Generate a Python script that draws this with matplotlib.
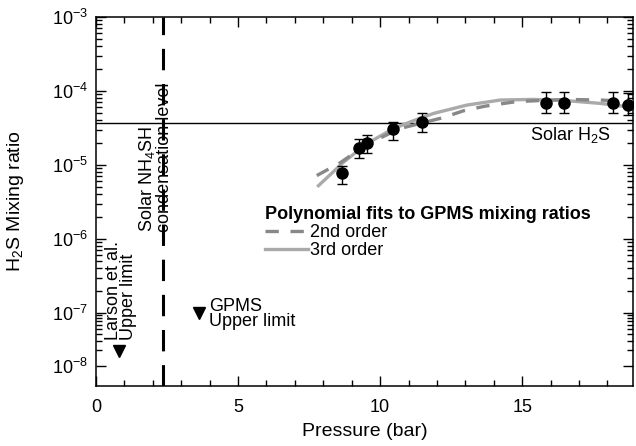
import numpy as np
import matplotlib
matplotlib.use("Agg")
import matplotlib.pyplot as plt
from matplotlib.ticker import FixedLocator, FixedFormatter, MultipleLocator

plt.rcParams['font.family'] = ['Liberation Sans', 'DejaVu Sans']
plt.rcParams['mathtext.fontset'] = 'custom'
plt.rcParams['mathtext.rm'] = 'Liberation Sans'
plt.rcParams['mathtext.it'] = 'Liberation Sans:italic'
plt.rcParams['mathtext.bf'] = 'Liberation Sans:bold'

# GPMS measurements (pressure in bar, H2S mixing ratio)
pressure = [8.65, 9.26, 9.53, 10.47, 11.49, 15.85, 16.48, 18.21, 18.74]
mixing = [7.8e-6, 1.71e-5, 2.0e-5, 3.04e-5, 3.82e-5, 6.8e-5, 6.8e-5, 6.8e-5, 6.45e-5]
err_hi = [9.8e-6, 2.22e-5, 2.58e-5, 3.82e-5, 4.98e-5, 9.8e-5, 9.8e-5, 9.8e-5, 9.3e-5]
err_lo = [5.55e-6, 1.24e-5, 1.45e-5, 2.16e-5, 2.79e-5, 4.98e-5, 4.98e-5, 4.98e-5, 4.7e-5]

# polynomial fits
fit2_p = [7.77, 8.59, 9.53, 10.70, 12.23, 12.93, 13.70, 14.81, 16.57, 17.75, 18.9]
fit2_m = [7.2e-6, 1.07e-5, 1.9e-5, 3.11e-5, 4.38e-5, 5.4e-5, 6.25e-5, 7.2e-5, 7.7e-5, 7.55e-5, 7.2e-5]
fit3_p = [7.83, 8.71, 9.53, 10.47, 11.06, 11.88, 13.05, 14.23, 15.40, 16.57, 17.75, 18.9]
fit3_m = [5.26e-6, 1.09e-5, 1.94e-5, 3.11e-5, 3.82e-5, 4.98e-5, 6.45e-5, 7.55e-5, 7.7e-5, 7.4e-5, 6.8e-5, 6.0e-5]

# upper limits
larson_p, larson_m = 0.81, 1.9e-8
gpms_p, gpms_m = 3.64, 1.0e-7

solar_h2s = 3.66e-5
nh4sh_level = 2.37

y_major = [1e-8, 1e-7, 1e-6, 1e-5, 1e-4, 1e-3]
y_labels = ['$10^{-8}$', '$10^{-7}$', '$10^{-6}$', '$10^{-5}$', '$10^{-4}$', '$10^{-3}$']

# the lowest decade of the original axis is squeezed
K = 53 / 74


def fwd(y):
    l = np.log10(np.clip(y, 1e-30, None))
    return np.where(l >= -7, l, -7 + (l + 7) * K)


def inv(t):
    t = np.asarray(t, dtype=float)
    return np.where(t >= -7, 10.0 ** t, 10.0 ** (-7 + (t + 7) / K))


fig = plt.figure(figsize=(6.36, 4.46), dpi=100)
ax = fig.add_axes([96 / 636, 1 - 386 / 446, 537 / 636, 369 / 446])
ax.set_yscale('function', functions=(fwd, inv))
ax.set_xlim(0, 18.9)
ax.set_ylim(4.2e-9, 1e-3)

ax.yaxis.set_major_locator(FixedLocator(y_major))
ax.yaxis.set_major_formatter(FixedFormatter(y_labels))
minors = [k * 10.0 ** e for e in range(-8, -3) for k in range(2, 10)]
ax.yaxis.set_minor_locator(FixedLocator(minors))
ax.xaxis.set_major_locator(MultipleLocator(5))
ax.xaxis.set_minor_locator(MultipleLocator(1))

ax.tick_params(which='both', direction='in', top=True, right=True, labelsize=13, width=1)
ax.tick_params(which='major', length=7)
ax.tick_params(which='minor', length=4)
ax.tick_params(axis='x', pad=9)
ax.tick_params(axis='y', pad=6)
for s in ax.spines.values():
    s.set_linewidth(1.1)

ax.axhline(solar_h2s, color='black', lw=1)
ax.axvline(nh4sh_level, color='black', lw=2.2, dashes=(7, 4.5))

ax.plot(fit3_p, fit3_m, color='#aaaaaa', lw=2.4, label='3rd order', zorder=2)
ax.plot(fit2_p, fit2_m, color='#888888', lw=2.4, dashes=(4, 3.5), label='2nd order', zorder=3)

yerr = [np.array(mixing) - np.array(err_lo), np.array(err_hi) - np.array(mixing)]
ax.errorbar(pressure, mixing, yerr=yerr, fmt='o', color='black', ms=8,
            elinewidth=1, capsize=3.5, capthick=1, zorder=4)

ax.plot([larson_p], [larson_m], marker='v', color='black', ms=8, ls='none')
ax.plot([gpms_p], [gpms_m], marker='v', color='black', ms=8, ls='none')

tr = ax.get_xaxis_transform()
ax.text(0.88, 0.125, 'Larson et al.\nUpper limit', transform=tr, rotation=90,
        ha='center', va='bottom', multialignment='left', fontsize=13, linespacing=0.9)
ax.text(2.08, 0.417, 'Solar NH$_4$SH\ncondensation level', transform=tr, rotation=90,
        ha='center', va='bottom', multialignment='left', fontsize=13, linespacing=0.9)
ax.text(3.98, 0.195, 'GPMS\nUpper limit', transform=tr, ha='left', va='center',
        fontsize=13, linespacing=0.9)
ax.text(15.28, 0.68, 'Solar H$_2$S', transform=tr, ha='left', va='center', fontsize=13)

h, l = ax.get_legend_handles_labels()
leg = ax.legend(h[::-1], l[::-1], loc='upper left', bbox_to_anchor=(0.315, 0.487),
                frameon=False, title='Polynomial fits to GPMS mixing ratios',
                title_fontproperties={'weight': 'bold', 'size': 13}, alignment='left',
                fontsize=13, borderpad=0, borderaxespad=0, handlelength=2.4,
                handletextpad=0.1, labelspacing=0.05)

ax.set_xlabel('Pressure (bar)', fontsize=14)
ax.set_ylabel('H$_2$S Mixing ratio', fontsize=14)
ax.xaxis.set_label_coords(0.5, -0.1)
ax.yaxis.set_label_coords(-0.13, 0.5)

fig.savefig('out.png', dpi=100)
